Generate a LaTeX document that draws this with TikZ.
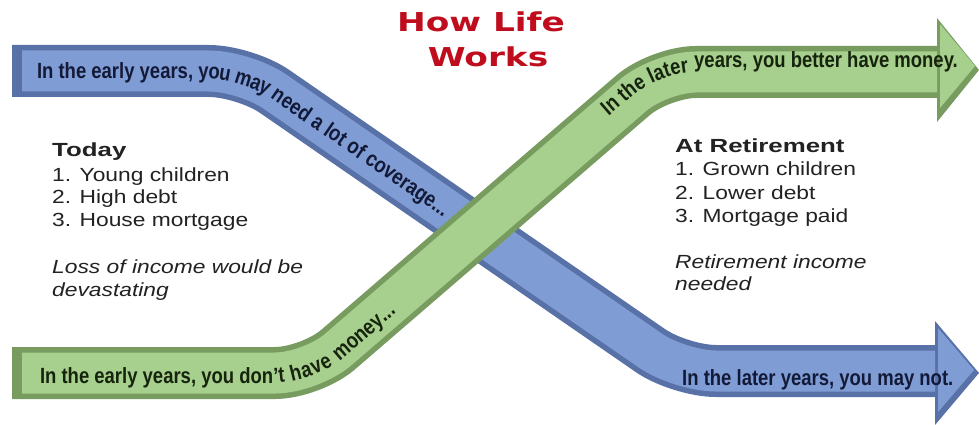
\documentclass[tikz,border=0pt]{standalone}
\usepackage{fontspec}
\usetikzlibrary{decorations.text}
\setmainfont{Liberation Sans}
\newfontfamily\bandfont[FakeStretch=0.84]{Liberation Sans}
\newfontfamily\listfont[FakeStretch=1.2]{Liberation Sans}
\newfontfamily\headfont[FakeStretch=1.36]{Liberation Sans}
\newfontfamily\titlefont[FakeStretch=1.32]{DejaVu Sans}

\definecolor{blueface}{HTML}{809CD4}
\definecolor{bluedark}{HTML}{5872A8}
\definecolor{bluetext}{HTML}{121A38}
\definecolor{greenface}{HTML}{A7CF8D}
\definecolor{greendark}{HTML}{789C60}
\definecolor{greentext}{HTML}{16240E}
\definecolor{titlered}{HTML}{C00D1E}
\definecolor{listgray}{HTML}{222222}

\tikzset{
  bandbase/.style={line width=52pt, rounded corners=36pt},
  bandface/.style={line width=41pt, rounded corners=36pt, yshift=5pt},
  bandfmt/.style={font=\bandfont\bfseries\fontsize{22}{22}\selectfont, inner sep=0pt},
  title/.style={font=\titlefont\bfseries\fontsize{26}{26}\selectfont, text=titlered, anchor=base, inner sep=0pt},
  head/.style={font=\headfont\bfseries\fontsize{19}{19}\selectfont, text=listgray, anchor=base west, inner sep=0pt},
  item/.style={font=\listfont\fontsize{19}{19}\selectfont, text=listgray, anchor=base west, inner sep=0pt},
  note/.style={font=\listfont\itshape\fontsize{19}{19}\selectfont, text=listgray, anchor=base west, inner sep=0pt},
}

\begin{document}
\begin{tikzpicture}[x=1pt,y=-1pt]
\fill[white] (0,0) rectangle (979,425);
\useasboundingbox (0,0) rectangle (979,425);

\coordinate (b0) at (12,71);
\coordinate (bf) at (22,71);
\coordinate (b1) at (245,71);
\coordinate (b2) at (680,371);
\coordinate (b3) at (935,371);

\coordinate (g0) at (12,373);
\coordinate (gf) at (22,373);
\coordinate (g1) at (311,373);
\coordinate (g2) at (660,72);
\coordinate (g3) at (937,72);
\coordinate (g4) at (979,72);

% blue band, going down
\draw[bandbase, bluedark] (b0) -- (b1) -- (b2) -- (b3);
\fill[bluedark] (935,321) -- (979,373) -- (935,425) -- cycle;
\draw[bandface, blueface] (bf) -- (b1) -- (b2) -- (b3);
\fill[blueface] (938,328) -- (974,370) -- (938,412) -- cycle;
\path[rounded corners=36pt, decorate, decoration={text along path, text color=bluetext, raise=-8pt,
  text align={left, left indent=25pt},
  text={|\bandfont\bfseries\fontsize{22}{22}\selectfont|In the early years, you may need a lot of coverage...}}]
  (b0) -- (b1) -- (b2);
\node[bandfmt, text=bluetext, anchor=base west] (bluelate) at (682,385) {In the later years, you may not.};

% green band, going up
\draw[bandbase, greendark] (g0) -- (g1) -- (g2) -- (g3);
\fill[greendark] (937,18) -- (979,70) -- (937,122) -- cycle;
\draw[bandface, greenface] (gf) -- (g1) -- (g2) -- (g3);
\fill[greenface] (940,24) -- (975,66) -- (940,108) -- cycle;
\path[rounded corners=36pt, decorate, decoration={text along path, text color=greentext, raise=-10pt,
  text align={left, left indent=28pt},
  text={|\bandfont\bfseries\fontsize{22}{22}\selectfont|In the early years, you don’t have money...}}]
  (g0) -- (g1) -- (g2);
\path[rounded corners=36pt, yshift=4pt, decorate, decoration={text along path, text color=greentext,
  text align={left, left indent=393pt},
  text={|\bandfont\bfseries\fontsize{22}{22}\selectfont|In the later}}]
  (g1) -- (g2) -- (g4);
\node[bandfmt, text=greentext, anchor=base west] (greenlate) at (694,68) {years, you better have money.};

\node[title] (how) at (481,32) {How Life};
\node[title] (works) at (488,67) {Works};

\node[head] (today) at (52,156) {Today};
\node[item] (today1) at (52,181) {1. Young children};
\node[item] (today2) at (52,203) {2. High debt};
\node[item] (today3) at (52,226) {3. House mortgage};
\node[note] (loss1) at (52,273) {Loss of income would be};
\node[note] (loss2) at (52,296) {devastating};

\node[head] (retire) at (675,152) {At Retirement};
\node[item] (retire1) at (675,175) {1. Grown children};
\node[item] (retire2) at (675,199) {2. Lower debt};
\node[item] (retire3) at (675,222) {3. Mortgage paid};
\node[note] (need1) at (675,268) {Retirement income};
\node[note] (need2) at (675,290) {needed};
\end{tikzpicture}
\end{document}
